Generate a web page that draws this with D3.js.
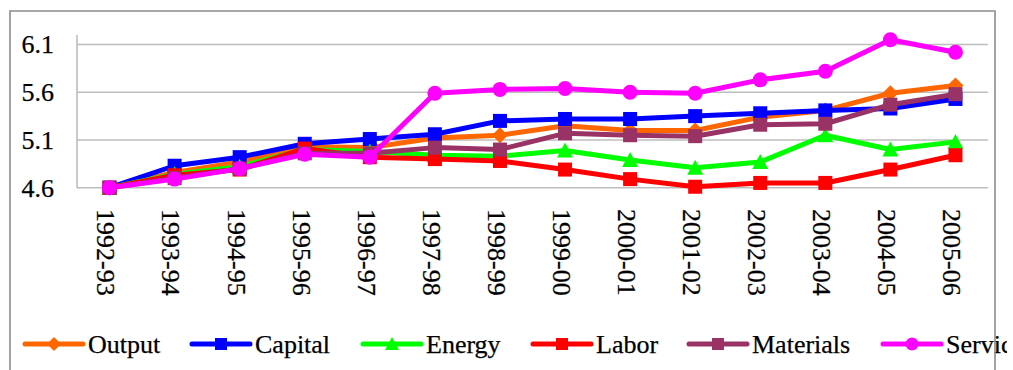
<!DOCTYPE html>
<html><head><meta charset="utf-8">
<script src="https://cdn.jsdelivr.net/npm/d3@7"></script>
<style>body{margin:0;background:#fff}svg{display:block}text{font-family:"Liberation Serif","Times New Roman",serif;fill:#000;stroke:#000;stroke-width:0.25px}</style>
</head><body><svg id="c" width="1013" height="370"></svg>
<script>
const categories = ["1992-93","1993-94","1994-95","1995-96","1996-97","1997-98","1998-99","1999-00","2000-01","2001-02","2002-03","2003-04","2004-05","2005-06"];
const output    = [4.60,4.76,4.87,5.03,5.02,5.12,5.15,5.25,5.20,5.20,5.34,5.41,5.59,5.67];
const capital   = [4.60,4.83,4.92,5.06,5.11,5.16,5.30,5.32,5.32,5.35,5.38,5.41,5.43,5.53];
const energy    = [4.60,4.74,4.82,5.00,4.98,4.94,4.93,4.99,4.89,4.81,4.87,5.15,5.00,5.08];
const labor     = [4.60,4.73,4.79,5.01,4.92,4.90,4.88,4.79,4.69,4.61,4.65,4.65,4.79,4.94];
const materials = [4.60,4.70,4.80,4.96,4.96,5.02,5.00,5.17,5.15,5.14,5.26,5.27,5.47,5.58];
const services  = [4.60,4.69,4.80,4.95,4.92,5.59,5.63,5.64,5.60,5.59,5.73,5.82,6.15,6.02];
const seriesNames = ["Output","Capital","Energy","Labor","Materials","Services"];
const yTicks = [4.6,5.1,5.6,6.1];

const seriesData = [output,capital,energy,labor,materials,services];
const colors = ["#FF6600","#0000FF","#00FF00","#FF0000","#993366","#FF00FF"];
const shapes = ["diamond","square","triangle","square","square","circle"];

const svg = d3.select("#c");
const defs = svg.append("defs");
defs.append("clipPath").attr("id","clip").append("rect").attr("x",10).attr("y",11).attr("width",997).attr("height",370);
const root = svg.append("g").attr("clip-path","url(#clip)");

const x = d3.scaleBand().domain(categories).range([77,988]);
const y = d3.scaleLinear().domain([4.6,6.2]).range([187.7,35]);

root.append("g").selectAll("line").data(yTicks).join("line")
  .attr("x1",77).attr("x2",988).attr("y1",d=>y(d)).attr("y2",d=>y(d))
  .attr("stroke","#BDBDBD").attr("stroke-width",1.6);
root.append("line").attr("x1",77).attr("x2",77).attr("y1",y(6.2)).attr("y2",y(4.6))
  .attr("stroke","#BDBDBD").attr("stroke-width",1.6);

const yAxis = d3.axisLeft(y).tickValues(yTicks).tickFormat(d3.format(".1f")).tickSize(0).tickPadding(23);
const ya = root.append("g").attr("transform","translate(77,0)").call(yAxis);
ya.select(".domain").remove();
ya.selectAll("text").style("font-size","26px").style("font-family","Liberation Serif").attr("fill","#000");

const xa = root.append("g").attr("transform","translate(0,209)");
xa.selectAll("text").data(categories).join("text")
  .attr("transform",d=>`translate(${x(d)+x.bandwidth()/2-3},0) rotate(90)`)
  .attr("dy","0.35em").attr("text-anchor","start").style("font-size","26px").text(d=>d);

function marker(g, shape, color, cx, cy, s){
  if(shape==="square") g.append("rect").attr("x",cx-s/2).attr("y",cy-s/2).attr("width",s).attr("height",s).attr("fill",color);
  else if(shape==="circle") g.append("circle").attr("cx",cx).attr("cy",cy).attr("r",s/2+0.5).attr("fill",color);
  else if(shape==="triangle") g.append("path").attr("d",`M${cx},${cy-s/2-1}L${cx+s/2+1},${cy+s/2}L${cx-s/2-1},${cy+s/2}Z`).attr("fill",color);
  else if(shape==="diamond") g.append("path").attr("d",`M${cx},${cy-s/2-1}L${cx+s/2+1},${cy}L${cx},${cy+s/2+1}L${cx-s/2-1},${cy}Z`).attr("fill",color);
}

const line = d3.line().x((d,i)=>x(categories[i])+x.bandwidth()/2).y(d=>y(d));
seriesData.forEach((vals,k)=>{
  const g = root.append("g");
  g.append("path").attr("d",line(vals)).attr("fill","none").attr("stroke",colors[k]).attr("stroke-width",5).attr("stroke-linejoin","round");
  vals.forEach((v,i)=>marker(g,shapes[k],colors[k],x(categories[i])+x.bandwidth()/2,y(v),14));
});

const legX = [25,192,363,533,689,883];
const lg = root.append("g").attr("transform","translate(0,344)");
seriesNames.forEach((n,k)=>{
  const g = lg.append("g").attr("transform",`translate(${legX[k]},0)`);
  g.append("line").attr("x1",0).attr("x2",58).attr("y1",0).attr("y2",0).attr("stroke",colors[k]).attr("stroke-width",5).attr("stroke-linecap","round");
  marker(g,shapes[k],colors[k],29,0,12);
  g.append("text").attr("x",63).attr("y",0).attr("dy","0.33em").style("font-size","26px").text(n);
});

svg.append("path").attr("d","M10,380V11H995V380").attr("fill","none").attr("stroke","#8C8C8C").attr("stroke-width",1.6);
</script></body></html>
